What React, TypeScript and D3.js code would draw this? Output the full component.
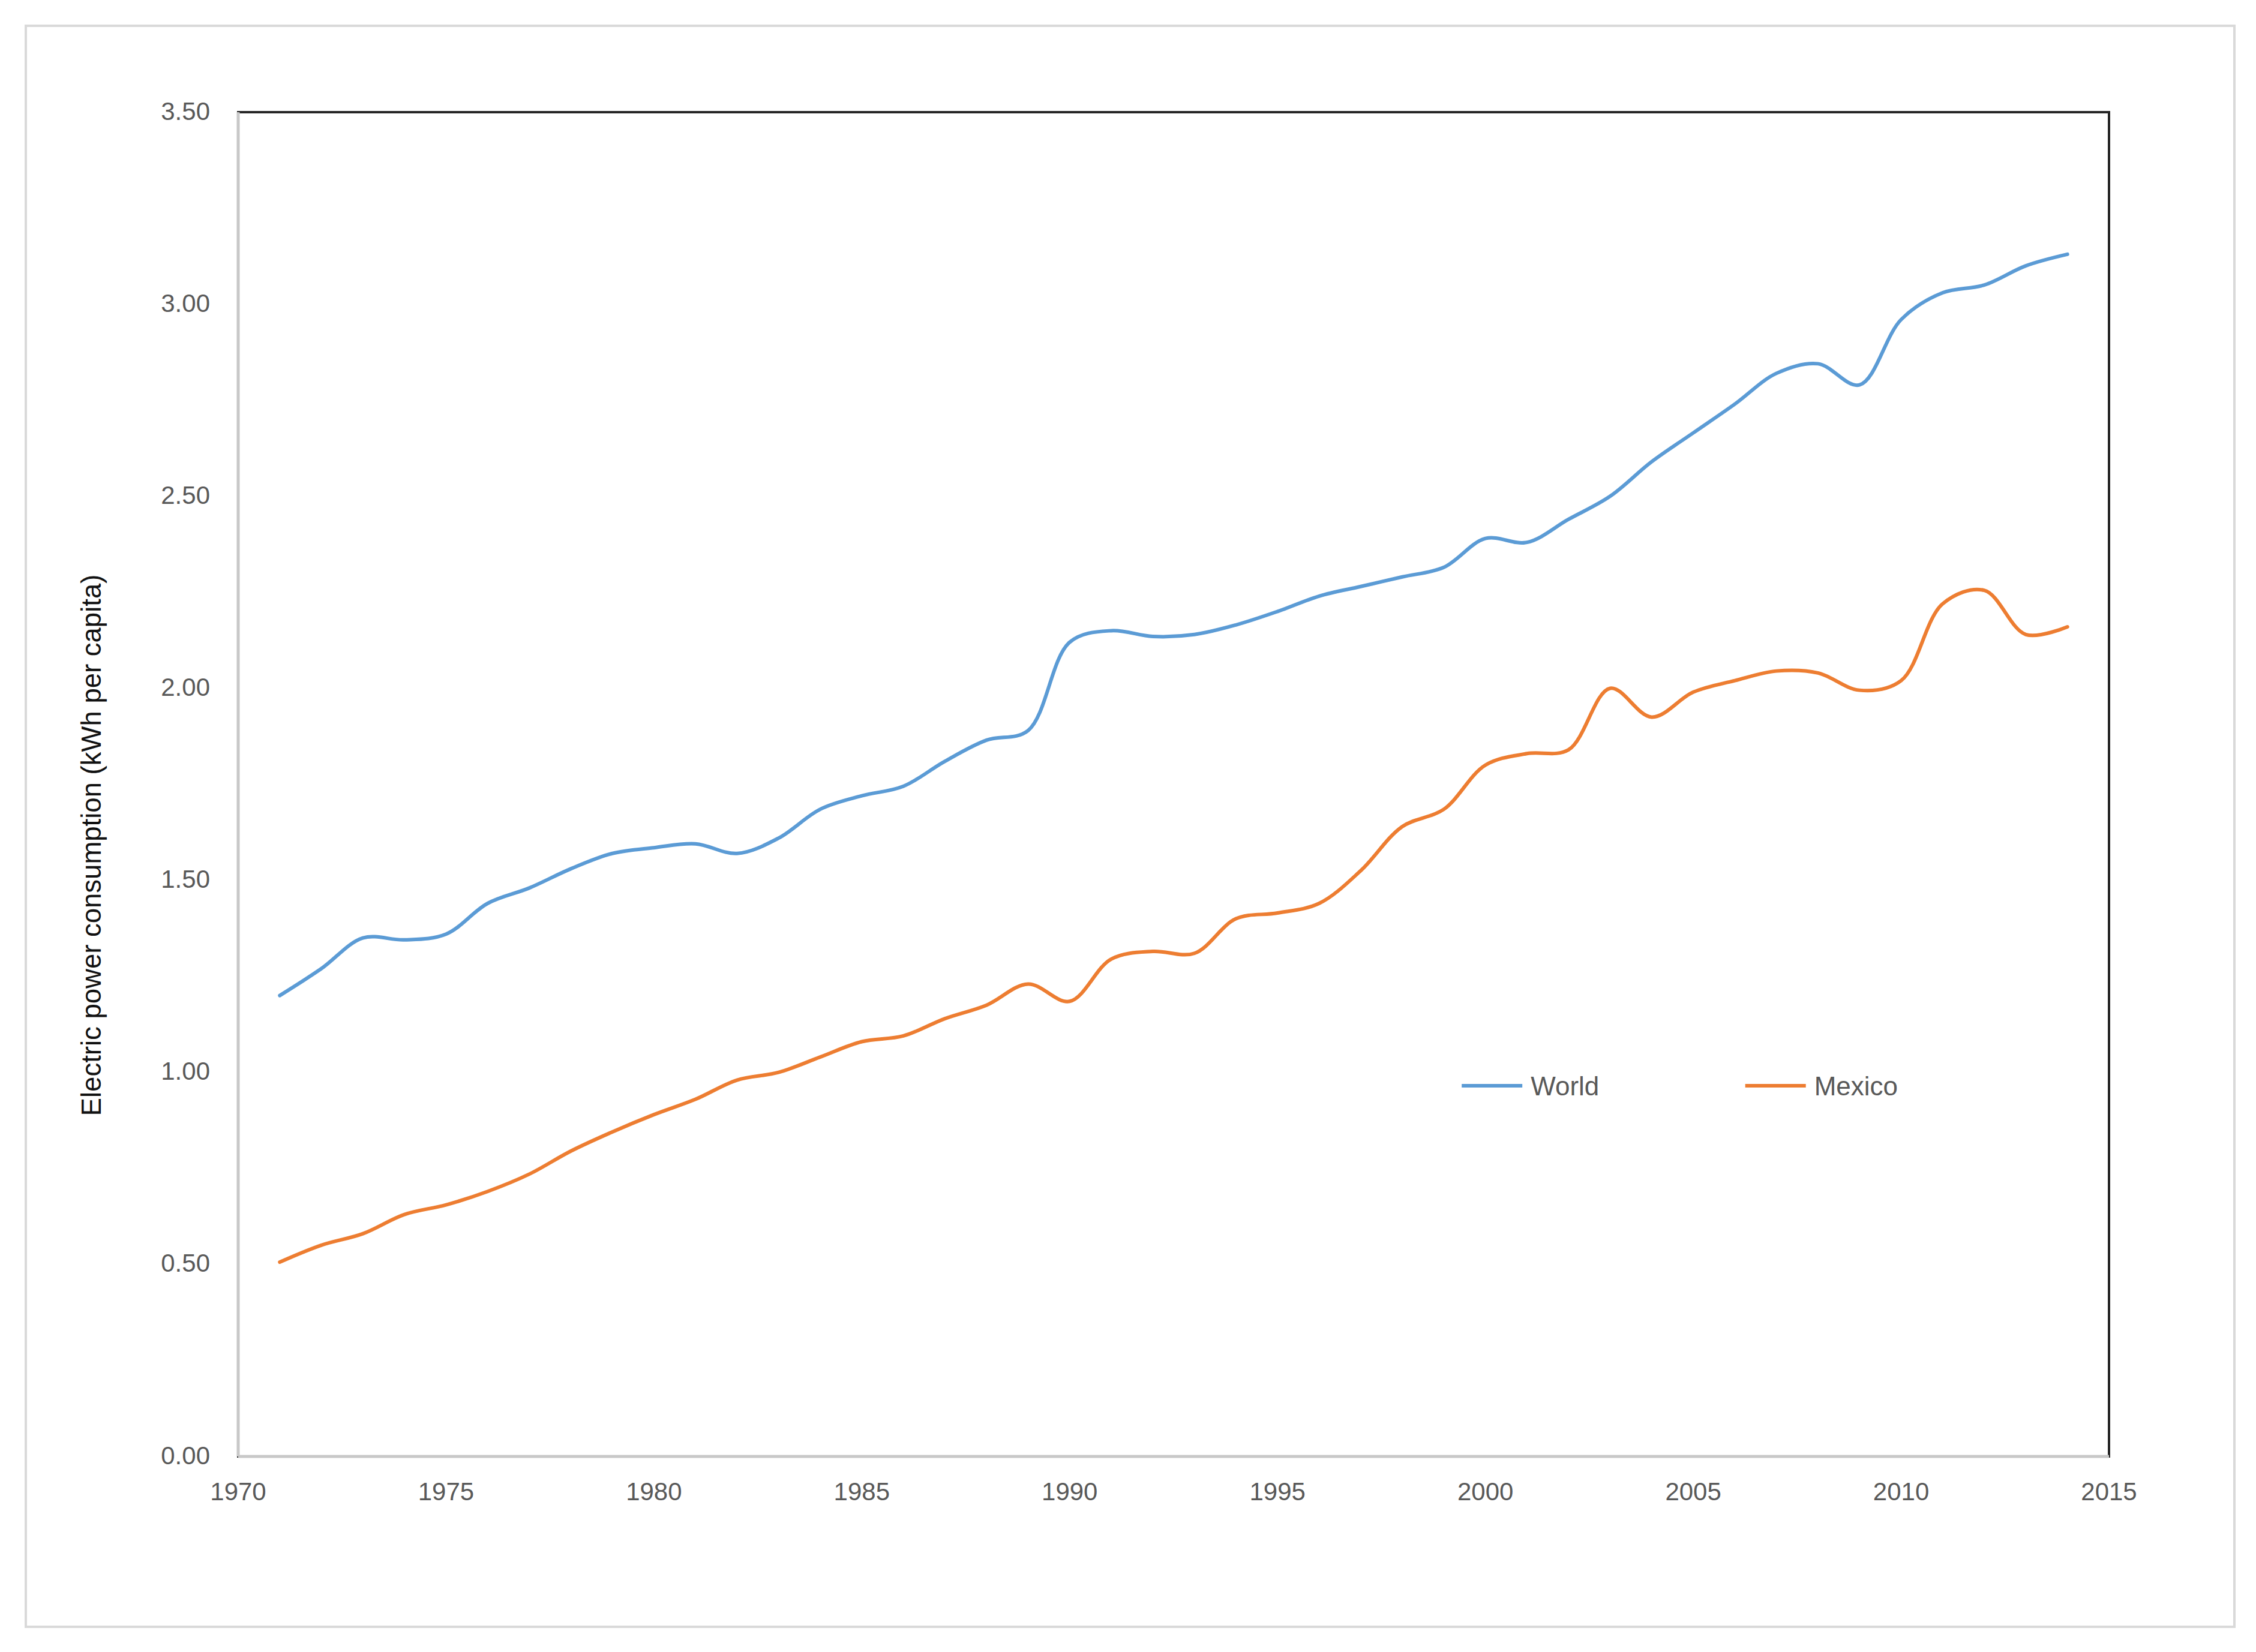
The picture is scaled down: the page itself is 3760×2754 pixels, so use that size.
import { useMemo } from 'react';
import * as d3 from 'd3';

// years on the x axis
const years = [
  1971, 1972, 1973, 1974, 1975, 1976, 1977, 1978, 1979, 1980,
  1981, 1982, 1983, 1984, 1985, 1986, 1987, 1988, 1989, 1990,
  1991, 1992, 1993, 1994, 1995, 1996, 1997, 1998, 1999, 2000,
  2001, 2002, 2003, 2004, 2005, 2006, 2007, 2008, 2009, 2010,
  2011, 2012, 2013, 2014,
];

// thousand kWh per capita
const world = [
  1.2, 1.27, 1.35, 1.345, 1.36, 1.44, 1.48, 1.53, 1.57, 1.585,
  1.595, 1.57, 1.61, 1.685, 1.72, 1.745, 1.81, 1.865, 1.89, 2.12,
  2.15, 2.135, 2.14, 2.165, 2.2, 2.24, 2.265, 2.29, 2.315, 2.39,
  2.38, 2.44, 2.5, 2.59, 2.665, 2.74, 2.82, 2.845, 2.79, 2.96,
  3.03, 3.05, 3.1, 3.13,
];

const mexico = [
  0.506, 0.55, 0.58, 0.63, 0.655, 0.69, 0.735, 0.795, 0.845, 0.89,
  0.93, 0.98, 1.0, 1.04, 1.08, 1.095, 1.14, 1.175, 1.23, 1.185,
  1.295, 1.315, 1.31, 1.4, 1.415, 1.44, 1.525, 1.64, 1.685, 1.8,
  1.83, 1.84, 2.0, 1.925, 1.99, 2.02, 2.045, 2.04, 1.995, 2.02,
  2.22, 2.255, 2.14, 2.16,
];

const xTicks = [1970, 1975, 1980, 1985, 1990, 1995, 2000, 2005, 2010, 2015];
const yTicks = [0, 0.5, 1, 1.5, 2, 2.5, 3, 3.5];

const seriesNames = ['World', 'Mexico'];
const seriesColors = ['#5B9BD5', '#ED7D31'];

const W = 3760;
const H = 2754;
const plot = { left: 397, right: 3515, top: 187, bottom: 2428 };
const font = '"Liberation Sans", Arial, sans-serif';

export default function App() {
  const x = useMemo(
    () => d3.scaleLinear().domain([1970, 2015]).range([plot.left, plot.right]),
    []
  );
  const y = useMemo(
    () => d3.scaleLinear().domain([0, 3.5]).range([plot.bottom, plot.top]),
    []
  );

  const line = d3
    .line<number>()
    .x((_, i) => x(years[i]))
    .y((d) => y(d))
    .curve(d3.curveCatmullRom.alpha(0.5));

  const series = [world, mexico];
  // legend sits inside the plot, a bit under 1.0 on the y scale
  const legendY = y(0.965);
  const legendX = [x(1999.43), x(2006.25)];

  return (
    <svg
      width={W}
      height={H}
      style={{ position: 'absolute', left: 0, top: 0, background: '#fff' }}
    >
      <rect x={0} y={0} width={W} height={H} fill="#fff" />
      <rect x={43} y={43} width={3681} height={2669} fill="none" stroke="#d9d9d9" strokeWidth={4} />

      {/* plot area frame */}
      <rect
        x={plot.left}
        y={plot.top}
        width={plot.right - plot.left}
        height={plot.bottom - plot.top}
        fill="none"
        stroke="#262626"
        strokeWidth={4}
      />
      <line x1={plot.left} x2={plot.left} y1={plot.top} y2={plot.bottom} stroke="#c8c8c8" strokeWidth={5} />
      <line x1={plot.left} x2={plot.right} y1={plot.bottom} y2={plot.bottom} stroke="#c8c8c8" strokeWidth={5} />

      {/* y axis labels */}
      {yTicks.map((t) => (
        <text
          key={t}
          x={350}
          y={y(t)}
          dy="0.3em"
          textAnchor="end"
          fontFamily={font}
          fontSize={42}
          fill="#595959"
        >
          {d3.format('.2f')(t)}
        </text>
      ))}

      {/* x axis labels */}
      {xTicks.map((t) => (
        <text
          key={t}
          x={x(t)}
          y={2501}
          textAnchor="middle"
          fontFamily={font}
          fontSize={42}
          fill="#595959"
        >
          {t}
        </text>
      ))}

      <text
        transform={`translate(168, ${1409}) rotate(-90)`}
        textAnchor="middle"
        fontFamily={font}
        fontSize={45.5}
        fill="#111"
      >
        Electric power consumption (kWh per capita)
      </text>

      {series.map((s, i) => (
        <path
          key={seriesNames[i]}
          d={line(s) || ''}
          fill="none"
          stroke={seriesColors[i]}
          strokeWidth={6}
          strokeLinejoin="round"
          strokeLinecap="round"
        />
      ))}

      {/* legend */}
      {seriesNames.map((name, i) => (
        <g key={name} transform={`translate(${legendX[i]}, ${legendY})`}>
          <line x1={0} x2={101} y1={0} y2={0} stroke={seriesColors[i]} strokeWidth={6} />
          <text x={115} y={0} dy="0.35em" fontFamily={font} fontSize={44} fill="#595959">
            {name}
          </text>
        </g>
      ))}
    </svg>
  );
}
